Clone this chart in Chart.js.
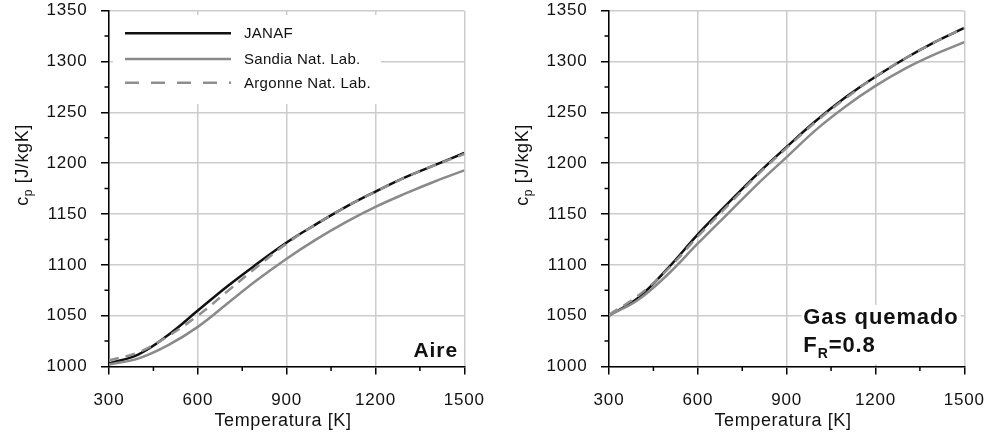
<!DOCTYPE html>
<html lang="es">
<head>
<meta charset="utf-8">
<title>Calor específico cp</title>
<script src="https://cdn.jsdelivr.net/npm/chart.js@4.4.1/dist/chart.umd.min.js"></script>
<style>
  html, body { margin: 0; padding: 0; background: #fff; overflow: hidden; }
  .panel { position: absolute; top: 0; width: 500px; height: 439px; }
</style>
</head>
<body>
<div class="panel" style="left:0"><canvas id="graficoAire"></canvas></div>
<div class="panel" style="left:500px"><canvas id="graficoGas"></canvas></div>
<script>
// Temperaturas [K]
const temperaturas = [300, 400, 500, 600, 700, 800, 900, 1000, 1100, 1200, 1300, 1400, 1500];

// cp del aire [J/kgK]
const aireJanaf   = [1003, 1012, 1031, 1055, 1079, 1101, 1122, 1140, 1157, 1172, 1186, 1198, 1210];
const aireSandia  = [1002, 1008, 1021, 1039, 1062, 1085, 1106, 1125, 1142, 1157, 1170, 1182, 1193];
const aireArgonne = [1006, 1014, 1030, 1050, 1074, 1098, 1121, 1140, 1157, 1172, 1186, 1198, 1209];

// cp del gas quemado, FR = 0.8 [J/kgK]
const gasJanaf   = [1050, 1068, 1097, 1130, 1160, 1189, 1216, 1242, 1265, 1285, 1303, 1319, 1333];
const gasSandia  = [1050, 1066, 1091, 1121, 1150, 1179, 1206, 1233, 1256, 1276, 1293, 1307, 1319];
const gasArgonne = [1051, 1070, 1096, 1128, 1158, 1188, 1215, 1241, 1264, 1285, 1303, 1319, 1333];

const series = ['JANAF', 'Sandia Nat. Lab.', 'Argonne Nat. Lab.'];

// Marcas de los ejes
const xTicks = [300, 600, 900, 1200, 1500];
const xMinor = [450, 750, 1050, 1350];
const yTicks = [1000, 1050, 1100, 1150, 1200, 1250, 1300, 1350];
const yMinor = [1025, 1075, 1125, 1175, 1225, 1275, 1325];

const FUENTE = '"Liberation Sans", Arial, Helvetica, sans-serif';
const colores = ['#111111', '#8a8a8a', '#8f8f8f'];
const trazos = [[], [], [10, 7]];

function dibujarLeyenda(ctx) {
  ctx.fillStyle = '#fff';
  ctx.fillRect(113, 15, 268, 89);
  const filas = [33.3, 59, 82.7];
  ctx.font = '15px ' + FUENTE;
  ctx.letterSpacing = '0.3px';
  ctx.textAlign = 'left';
  ctx.textBaseline = 'middle';
  series.forEach((nombre, i) => {
    ctx.beginPath();
    ctx.strokeStyle = colores[i];
    ctx.lineWidth = 2.5;
    ctx.setLineDash(i === 2 ? [14, 12] : []);
    ctx.moveTo(125, filas[i]);
    ctx.lineTo(231, filas[i]);
    ctx.stroke();
    ctx.fillStyle = '#111';
    ctx.fillText(nombre, 244, filas[i] + 1);
  });
  ctx.setLineDash([]);
}

function dibujarNota(ctx, nota) {
  ctx.fillStyle = '#111';
  ctx.textBaseline = 'alphabetic';
  ctx.letterSpacing = '0.9px';
  if (nota === 'aire') {
    ctx.font = 'bold 21px ' + FUENTE;
    ctx.textAlign = 'right';
    ctx.fillText('Aire', 458, 357.3);
  } else {
    ctx.fillStyle = '#fff';
    ctx.fillRect(301.7, 305, 159, 59.5);
    ctx.fillStyle = '#111';
    ctx.textAlign = 'left';
    ctx.font = 'bold 22px ' + FUENTE;
    ctx.fillText('Gas quemado', 303.3, 324);
    ctx.fillText('F', 303.3, 351.7);
    let xx = 303.3 + ctx.measureText('F').width;
    ctx.font = 'bold 14px ' + FUENTE;
    ctx.fillText('R', xx, 357.5);
    xx += ctx.measureText('R').width;
    ctx.font = 'bold 22px ' + FUENTE;
    ctx.fillText('=0.8', xx, 351.7);
  }
}

const decoracion = {
  id: 'decoracion',
  beforeDraw(chart) {
    chart.ctx.letterSpacing = '0.8px';
  },
  afterDraw(chart, args, opts) {
    const { ctx, chartArea: a, scales: { x, y } } = chart;
    ctx.save();

    // marcas secundarias
    ctx.strokeStyle = '#000';
    ctx.lineWidth = 1.5;
    ctx.beginPath();
    yMinor.forEach(v => {
      const py = y.getPixelForValue(v);
      ctx.moveTo(a.left - 4.5, py);
      ctx.lineTo(a.left, py);
    });
    xMinor.forEach(v => {
      const px = x.getPixelForValue(v);
      ctx.moveTo(px, a.bottom);
      ctx.lineTo(px, a.bottom + 4.5);
    });
    ctx.stroke();

    // título del eje x
    ctx.fillStyle = '#111';
    ctx.font = '18px ' + FUENTE;
    ctx.letterSpacing = '0.6px';
    ctx.textAlign = 'center';
    ctx.textBaseline = 'alphabetic';
    ctx.fillText('Temperatura [K]', 283, 426);

    // título del eje y: c con subíndice p
    ctx.save();
    ctx.translate(28, 165);
    ctx.rotate(-Math.PI / 2);
    ctx.textAlign = 'left';
    ctx.font = '18px ' + FUENTE;
    const wc = ctx.measureText('c').width;
    const wr = ctx.measureText(' [J/kgK]').width;
    ctx.font = '12px ' + FUENTE;
    const wp = ctx.measureText('p').width;
    let xx = -(wc + wp + wr) / 2;
    ctx.font = '18px ' + FUENTE;
    ctx.fillText('c', xx, 0);
    ctx.font = '12px ' + FUENTE;
    ctx.fillText('p', xx + wc, 4);
    ctx.font = '18px ' + FUENTE;
    ctx.fillText(' [J/kgK]', xx + wc + wp, 0);
    ctx.restore();

    if (opts.conLeyenda) dibujarLeyenda(ctx);
    dibujarNota(ctx, opts.nota);
    ctx.restore();
  }
};

function crearGrafico(canvas, valores, conLeyenda, nota) {
  const grid = {
    color: '#cccccc',
    lineWidth: 1.5,
    tickColor: '#000',
    tickLength: 8,
    tickWidth: 1.5
  };
  const border = { color: '#000', width: 1.5 };
  return new Chart(canvas, {
    type: 'line',
    data: {
      datasets: valores.map((v, i) => ({
        label: series[i],
        data: temperaturas.map((t, k) => ({ x: t, y: v[k] })),
        borderColor: colores[i],
        borderWidth: 2.5,
        borderDash: trazos[i],
        pointRadius: 0,
        fill: false,
        tension: 0.4,
        order: 3 - i
      }))
    },
    options: {
      responsive: true,
      maintainAspectRatio: false,
      animation: false,
      layout: { padding: { top: 10.7, right: 35.7, bottom: 0, left: 0 } },
      scales: {
        x: {
          type: 'linear',
          min: 300,
          max: 1500,
          afterBuildTicks: s => { s.ticks = xTicks.map(v => ({ value: v })); },
          afterFit: s => {
            s.height = 72.5;
            s.paddingLeft = 0;
            s.paddingRight = 0;
          },
          grid: grid,
          border: border,
          ticks: {
            color: '#111',
            padding: 16,
            maxRotation: 0,
            font: { family: FUENTE, size: 17 },
            callback: v => String(v)
          }
        },
        y: {
          min: 1000,
          max: 1350,
          afterBuildTicks: s => { s.ticks = yTicks.map(v => ({ value: v })); },
          afterFit: s => {
            s.width = 109;
            s.paddingTop = 0;
            s.paddingBottom = 0;
          },
          grid: grid,
          border: border,
          ticks: {
            color: '#111',
            padding: 13.5,
            font: { family: FUENTE, size: 17 },
            callback: v => String(v)
          }
        }
      },
      plugins: {
        legend: { display: false },
        tooltip: { enabled: false },
        decoracion: { conLeyenda: conLeyenda, nota: nota }
      }
    },
    plugins: [decoracion]
  });
}

document.addEventListener('DOMContentLoaded', function () {
  crearGrafico(document.getElementById('graficoAire'),
    [aireJanaf, aireSandia, aireArgonne], true, 'aire');
  crearGrafico(document.getElementById('graficoGas'),
    [gasJanaf, gasSandia, gasArgonne], false, 'gas');
});
</script>
</body>
</html>
